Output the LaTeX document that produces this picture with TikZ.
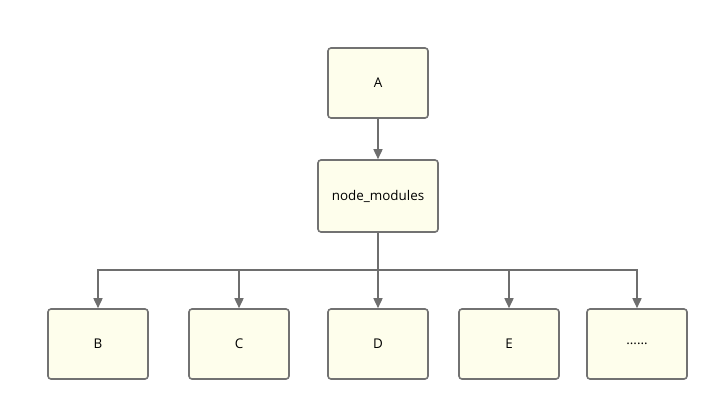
\documentclass[tikz,border=0pt]{standalone}
\usepackage{fontspec}
\setmainfont{Open Sans}
\usetikzlibrary{arrows.meta}
\definecolor{boxfill}{HTML}{FEFEEC}
\definecolor{boxline}{HTML}{727272}
\definecolor{arrowc}{HTML}{6E6E6E}
\begin{document}
\begin{tikzpicture}[x=1pt,y=-1pt,
  box/.style={draw=boxline,fill=boxfill,line width=1.6pt,rounded corners=3pt,
    minimum width=100pt,minimum height=70pt,inner sep=0pt,font=\fontsize{13.4}{15}\selectfont},
  conn/.style={draw=arrowc,line width=1.6pt,-{Triangle[length=10pt,width=9pt]}}]
\useasboundingbox (0,0) rectangle (719,410);
\fill[white] (0,0) rectangle (719,410);
\node[box] (A) at (378,83) {A};
\node[box,minimum width=120pt,minimum height=72pt] (NM) at (378,196) {node\_modules};
\node[box] (B) at (98,344) {B};
\node[box] (C) at (239,344) {C};
\node[box] (D) at (378,344) {D};
\node[box] (E) at (509,344) {E};
\node[box] (F) at (637,344) {......};
\coordinate (bus) at (378,270);
\draw[conn] (A) -- (NM);
\draw[draw=arrowc,line width=1.6pt] (NM.south) -- (bus);
\foreach \t in {B,C,D,E,F}{
  \draw[conn] (bus) -| (\t.north);
}
\end{tikzpicture}
\end{document}
